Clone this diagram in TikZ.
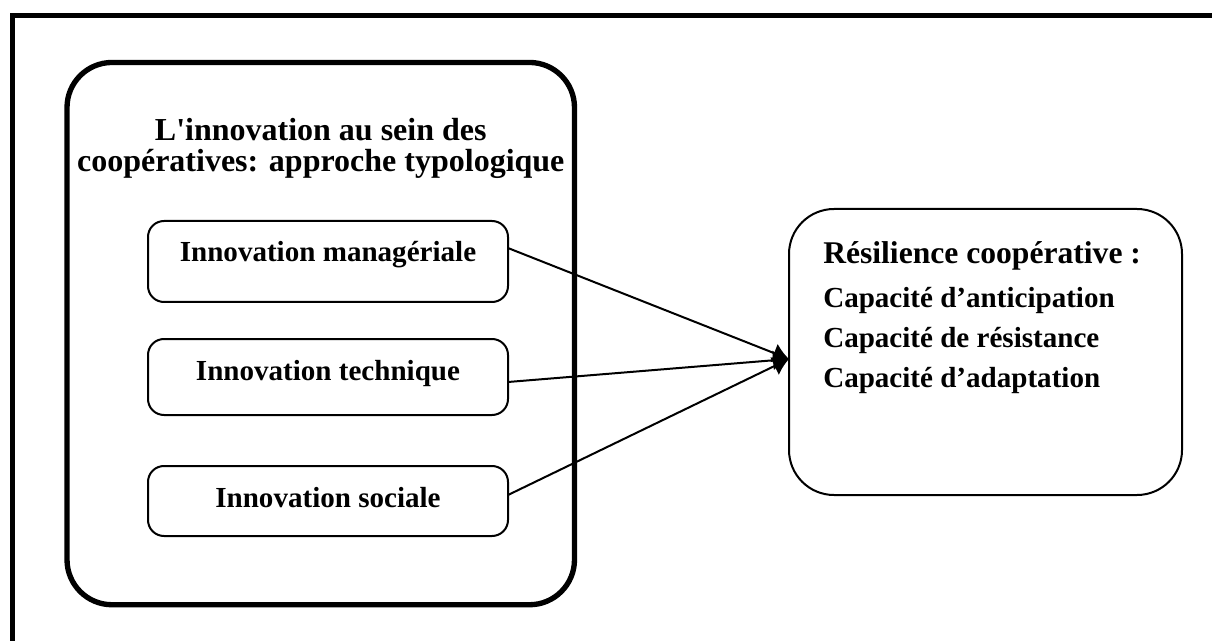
\documentclass[tikz,border=0pt]{standalone}
\usepackage{fontspec}
\setmainfont{Liberation Serif}
\usetikzlibrary{arrows.meta, positioning}
\tikzset{
    frm/.style={line width=3.75pt},
    gbox/.style={draw, line width=4pt, rounded corners=33.75pt, minimum width=380.6pt, minimum height=406.7pt, inner sep=0pt, outer sep=0pt},
    ibox/.style={draw, line width=1.5pt, rounded corners=12pt, minimum width=270pt, inner sep=0pt, outer sep=0pt, text height=30.75pt, font=\fontsize{21.8}{26}\selectfont\bfseries},
    rbox/.style={draw, line width=1.5pt, rounded corners=33.75pt, minimum width=294.75pt, minimum height=214.5pt, inner sep=0pt, outer sep=0pt},
    rtxt/.style={anchor=base west, inner sep=0pt, font=\fontsize{21.8}{26}\selectfont\bfseries},
    lnk/.style={line width=1.5pt, -{Latex[length=12pt, width=15pt]}}
}

\begin{document}
\begin{tikzpicture}[x=0.75pt, y=-0.75pt]
    \useasboundingbox (0, 0) rectangle (1212, 641);
    \clip (0, 0) rectangle (1212, 641);
    \draw[frm] (12.5, 15.8) rectangle (1260, 690);

    \node[gbox] (typo) at (320.75, 333.6) {};
    \node[align=center, inner sep=0pt, font=\fontsize{24}{23.25}\selectfont\bfseries] (typotitle) at (320.75, 148)
        {L\textquotesingle innovation au sein des\\coopératives: approche typologique};

    \node[ibox, text depth=30pt, anchor=north west] (manag) at (148, 221) {Innovation managériale};
    \node[ibox, text depth=26.25pt, below=27.75pt of manag] (techn) {Innovation technique};
    \node[ibox, text depth=21.75pt, below=38.25pt of techn] (soc) {Innovation sociale};

    \node[rbox] (resil) at (985.5, 352) {};
    \node[rtxt, font=\fontsize{23.7}{28}\selectfont\bfseries] (reshead) at (823, 264) {Résilience coopérative :};
    \node[rtxt] (antic) at (823, 307) {Capacité d’anticipation};
    \node[rtxt] (resist) at (823, 347) {Capacité de résistance};
    \node[rtxt] (adapt) at (823, 387) {Capacité d’adaptation};
    \coordinate (hit) at ([yshift=-5.25pt]resil.west);

    \draw[lnk] ([yshift=10.1pt]manag.east) -- (hit);
    \draw[lnk] ([yshift=-3.75pt]techn.east) -- (hit);
    \draw[lnk] ([yshift=4.5pt]soc.east) -- (hit);
\end{tikzpicture}
\end{document}
